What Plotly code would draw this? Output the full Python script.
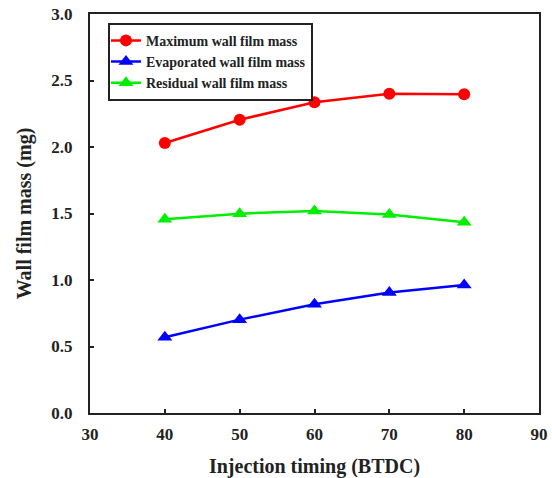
import plotly.graph_objects as go

# Injection timing (deg BTDC) and wall film masses (mg)
timing = [40, 50, 60, 70, 80]
max_film = [2.03, 2.205, 2.337, 2.40, 2.396]
evap_film = [0.57, 0.702, 0.818, 0.906, 0.962]
resid_film = [1.457, 1.499, 1.519, 1.492, 1.434]

serif = "Liberation Serif, Times New Roman, serif"
ink = "#222222"

fig = go.Figure()
fig.add_trace(go.Scatter(
    x=timing, y=max_film, name="Maximum wall film mass",
    mode="lines+markers",
    line=dict(color="#ff0000", width=2.5),
    marker=dict(symbol="circle", size=12, color="#ff0000"),
))
fig.add_trace(go.Scatter(
    x=timing, y=evap_film, name="Evaporated wall film mass",
    mode="lines+markers",
    line=dict(color="#0000ff", width=2.5),
    marker=dict(symbol="triangle-up", size=13, color="#0000ff"),
))
fig.add_trace(go.Scatter(
    x=timing, y=resid_film, name="Residual wall film mass",
    mode="lines+markers",
    line=dict(color="#00ee00", width=2.5),
    marker=dict(symbol="triangle-up", size=13, color="#00ee00"),
))

axis_common = dict(
    showgrid=False, zeroline=False, automargin=False,
    showline=True, linecolor=ink, linewidth=2, mirror=True,
    ticks="inside", ticklen=4, tickwidth=2, tickcolor=ink,
    tickfont=dict(family=serif, size=17, color=ink, weight="bold"),
)

fig.update_xaxes(
    range=[30, 90], tickvals=[30, 40, 50, 60, 70, 80, 90],
    ticklabelstandoff=5,
    title=dict(text="Injection timing (BTDC)", standoff=18,
               font=dict(family=serif, size=20, color=ink, weight="bold")),
    **axis_common,
)
fig.update_yaxes(
    range=[0, 3.0], tickvals=[0, 0.5, 1.0, 1.5, 2.0, 2.5, 3.0],
    tickformat=".1f", ticklabelstandoff=12,
    title=dict(text="Wall film mass (mg)", standoff=14,
               font=dict(family=serif, size=20, color=ink, weight="bold")),
    **axis_common,
)

fig.update_layout(
    width=552, height=478,
    margin=dict(l=90, r=13, t=14, b=65),
    paper_bgcolor="white", plot_bgcolor="white",
    legend=dict(
        x=0.04, y=0.978, xanchor="left", yanchor="top",
        bgcolor="white", bordercolor=ink, borderwidth=2,
        font=dict(family=serif, size=14, color=ink, weight="bold"),
        itemwidth=30, tracegroupgap=0, indentation=-4,
    ),
    showlegend=True,
)

fig.write_html("out.html")
